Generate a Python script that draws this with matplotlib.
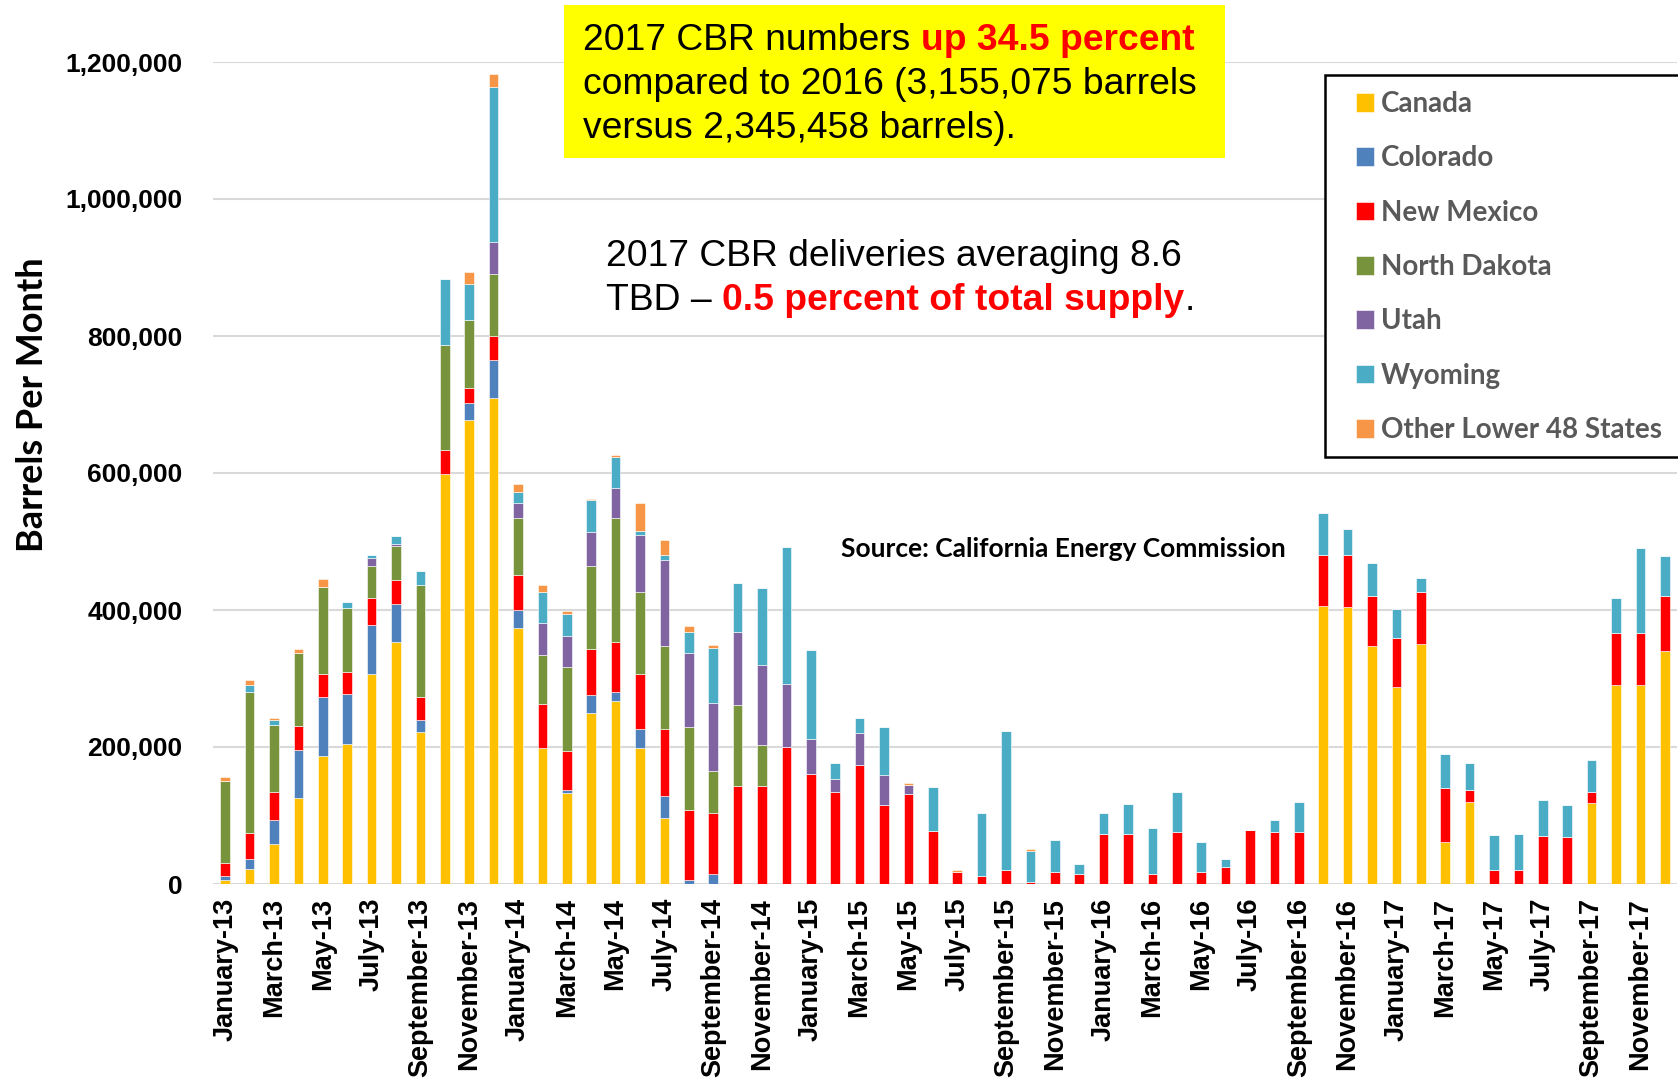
import numpy as np
import matplotlib
matplotlib.use('Agg')
import matplotlib.pyplot as plt
from matplotlib.patches import Rectangle

# monthly CBR deliveries, thousands of barrels, Jan 2013 .. Dec 2017
months = ['January', 'February', 'March', 'April', 'May', 'June', 'July',
          'August', 'September', 'October', 'November', 'December']
years = ['13', '14', '15', '16', '17']

canada = [6, 22, 59, 125, 187, 205, 306, 353, 222, 598, 677, 709,
          373, 199, 133, 250, 267, 199, 97, 0, 0, 0, 0, 0,
          0, 0, 0, 0, 0, 0, 0, 0, 0, 0, 0, 0,
          0, 0, 0, 0, 0, 0, 0, 0, 0, 406, 404, 348,
          287, 351, 62, 120, 0, 0, 0, 0, 118, 290, 290, 340]
colorado = [6, 15, 34, 70, 86, 73, 72, 56, 17, 0, 25, 56,
            27, 0, 4, 26, 14, 27, 31, 6, 14, 0, 0, 0,
            0, 0, 0, 0, 0, 0, 0, 0, 0, 0, 0, 0,
            0, 0, 0, 0, 0, 0, 0, 0, 0, 0, 0, 0,
            0, 0, 0, 0, 0, 0, 0, 0, 0, 0, 0, 0]
new_mexico = [18, 38, 41, 36, 33, 31, 39, 35, 34, 36, 22, 35,
              51, 64, 57, 67, 72, 80, 98, 102, 89, 143, 143, 200,
              161, 134, 173, 115, 131, 78, 17, 12, 20, 3, 17, 15,
              73, 73, 15, 76, 17, 25, 79, 76, 76, 75, 77, 72,
              72, 75, 78, 17, 20, 20, 70, 68, 16, 77, 77, 80]
north_dakota = [121, 206, 98, 106, 128, 94, 47, 50, 164, 153, 100, 91,
                83, 71, 123, 121, 181, 120, 122, 121, 62, 119, 60, 0,
                0, 0, 0, 0, 0, 0, 0, 0, 0, 0, 0, 0,
                0, 0, 0, 0, 0, 0, 0, 0, 0, 0, 0, 0,
                0, 0, 0, 0, 0, 0, 0, 0, 0, 0, 0, 0]
utah = [0, 0, 0, 0, 0, 0, 12, 3, 0, 0, 0, 46,
        22, 47, 45, 50, 44, 84, 125, 108, 99, 106, 117, 92,
        50, 19, 47, 44, 14, 0, 0, 0, 0, 0, 0, 0,
        0, 0, 0, 0, 0, 0, 0, 0, 0, 0, 0, 0,
        0, 0, 0, 0, 0, 0, 0, 0, 0, 0, 0, 0]
wyoming = [0, 10, 7, 0, 0, 9, 5, 11, 20, 96, 52, 227,
           16, 46, 32, 46, 45, 6, 7, 31, 80, 72, 112, 200,
           131, 23, 22, 70, 0, 64, 0, 91, 203, 45, 47, 14,
           30, 44, 67, 58, 45, 11, 0, 17, 44, 61, 37, 48,
           42, 20, 50, 39, 51, 53, 53, 47, 47, 51, 123, 59]
other = [5, 7, 4, 6, 11, 0, 0, 0, 0, 0, 18, 18,
         12, 10, 4, 2, 3, 40, 22, 8, 5, 0, 0, 0,
         0, 0, 0, 0, 3, 0, 3, 0, 0, 3, 0, 0,
         0, 0, 0, 0, 0, 0, 0, 0, 0, 0, 0, 0,
         0, 0, 0, 0, 0, 0, 0, 0, 0, 0, 0, 0]

series = [('Canada', canada, '#FFC000'),
          ('Colorado', colorado, '#4F81BD'),
          ('New Mexico', new_mexico, '#FF0000'),
          ('North Dakota', north_dakota, '#77933C'),
          ('Utah', utah, '#8064A2'),
          ('Wyoming', wyoming, '#4BACC6'),
          ('Other Lower 48 States', other, '#F79646')]

labels = [m + '-' + y for y in years for m in months]
W, H = 1678, 1084


def px(x, y):
    return x / W, 1 - y / H


fig = plt.figure(figsize=(W / 100, H / 100), dpi=100)
ax = fig.add_axes([213 / W, 200 / H, 1464 / W, 822 / H])

x = np.arange(len(labels))
bottom = np.zeros(len(labels))
for name, vals, col in series:
    v = np.array(vals) * 1000.0
    ax.bar(x, v, 0.4, bottom=bottom, color=col, edgecolor='white',
           linewidth=0.4, label=name, zorder=3)
    bottom += v

ax.set_xlim(-0.5, len(labels) - 0.5)
ax.set_ylim(0, 1200000)
ax.set_yticks(np.arange(0, 1200001, 200000))
ax.set_yticklabels(['{:,}'.format(v) for v in range(0, 1200001, 200000)],
                   family='Liberation Sans', fontweight='bold', fontsize=19)
ax.set_xticks(x[::2])
ax.set_xticklabels(labels[::2], rotation=90, family='Liberation Sans',
                   fontweight='bold', fontsize=19.5, va='top', ha='center')
ax.tick_params(length=0)
ax.tick_params(axis='y', pad=22)
ax.tick_params(axis='x', pad=10)
ax.grid(axis='y', color='#d9d9d9', linewidth=1.5, zorder=0)
for s in ax.spines.values():
    s.set_visible(False)

fig.text(*px(33, 405), 'Barrels Per Month', rotation=90, family='Lato',
         fontweight='bold', fontsize=26, ha='center', va='center')

# legend box (runs off the right edge like the original)
lx0, ly0 = px(1325, 457)
lx1, ly1 = px(1700, 75)
fig.add_artist(Rectangle((lx0, ly0), lx1 - lx0, ly1 - ly0, transform=fig.transFigure,
                         facecolor='white', edgecolor='black', linewidth=1.8,
                         zorder=4))
handles, names = ax.get_legend_handles_labels()
leg = fig.legend(handles, names, loc='center left', bbox_to_anchor=px(1356, 267),
                 borderaxespad=0, borderpad=0,
                 prop={'family': 'Lato', 'weight': 'bold', 'size': 20},
                 handlelength=0.65, handleheight=0.65, handletextpad=0.25,
                 labelspacing=1.02, frameon=False)
leg.set_zorder(6)
for t in leg.get_texts():
    t.set_color('#595959')

# yellow note box
x0, y0 = px(564, 158)
x1, y1 = px(1225, 5)
fig.add_artist(Rectangle((x0, y0), x1 - x0, y1 - y0, transform=fig.transFigure,
                         facecolor='#FFFF00', edgecolor='none', zorder=5))

fs = 26.8
t = fig.text(*px(583, 40), '2017 CBR numbers ', family='Liberation Sans',
             fontsize=fs, va='center', zorder=6)
fig.add_artist(plt.Annotation('up 34.5 percent', xy=(1, 0), xycoords=t,
                              va='bottom', family='Liberation Sans', zorder=6,
                              fontsize=fs, fontweight='bold', color='#FF0000'))
fig.text(*px(583, 84), 'compared to 2016 (3,155,075 barrels',
         family='Liberation Sans', fontsize=fs, va='center', zorder=6)
fig.text(*px(583, 128), 'versus 2,345,458 barrels).',
         family='Liberation Sans', fontsize=fs, va='center', zorder=6)

fig.text(*px(606, 256), '2017 CBR deliveries averaging 8.6',
         family='Liberation Sans', fontsize=fs, va='center')
t2 = fig.text(*px(606, 301), 'TBD \u2013 ', family='Liberation Sans',
              fontsize=fs, va='center')
a2 = plt.Annotation('0.5 percent of total supply', xy=(1, 0), xycoords=t2,
                    va='bottom', family='Liberation Sans', fontsize=fs,
                    fontweight='bold', color='#FF0000')
fig.add_artist(a2)
fig.add_artist(plt.Annotation('.', xy=(1, 0), xycoords=a2, va='bottom',
                              family='Liberation Sans', fontsize=fs))

fig.text(*px(841, 549), 'Source: California Energy Commission', family='Lato',
         fontweight='bold', fontsize=19, va='center')

fig.savefig('out.png', dpi=100)
